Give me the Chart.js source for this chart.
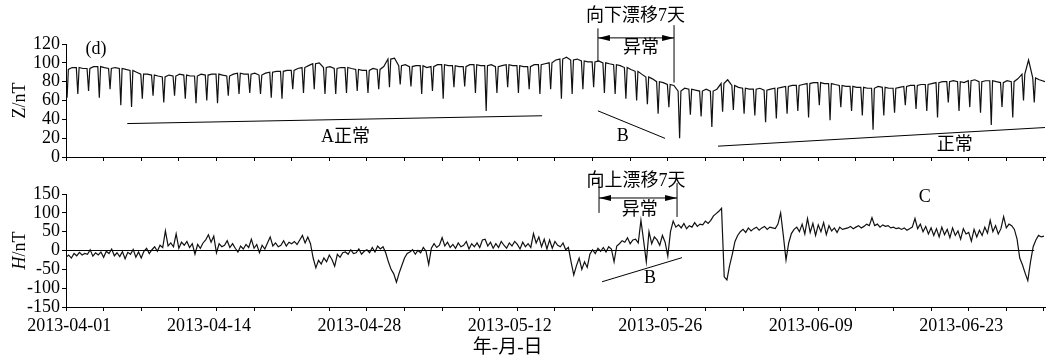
<!DOCTYPE html>
<html>
<head>
<meta charset="utf-8">
<script src="https://cdn.jsdelivr.net/npm/chart.js@4.4.0/dist/chart.umd.min.js"></script>
<style>
  html, body { margin: 0; padding: 0; background: #fff; }
  #wrap { position: relative; width: 1056px; height: 360px; }
  canvas { position: absolute; left: 0; }
  #zChart { top: 0; }
  #hChart { top: 168px; }
</style>
</head>
<body>
<div id="wrap">
  <canvas id="zChart" width="1056" height="168"></canvas>
  <canvas id="hChart" width="1056" height="192"></canvas>
</div>
<script>
const FONT = `"Liberation Serif", "Noto Sans CJK SC", serif`;

// x axis: days since 2013-04-01 00:00
const X_MIN = -0.3;
const X_MAX = 90.8;
const MARK_STEP = 3.5;
const labelDays = [0, 13, 27, 41, 55, 69, 83];
const dateLabels = [`2013-04-01`, `2013-04-14`, `2013-04-28`, `2013-05-12`, `2013-05-26`, `2013-06-09`, `2013-06-23`];

// Z: one value per day for the level around the dip, the dip itself and the midday level
const zLevel = [
  93, 95, 94, 96, 94, 94, 92, 88, 87, 85,
  86, 87, 86, 87, 88, 86, 89, 88, 87, 90,
  91, 92, 95, 99, 95, 94, 95, 93, 92, 93,
  104, 97, 96, 97, 96, 98, 97, 96, 98, 97,
  96, 98, 97, 96, 98, 100, 104, 103, 102, 101,
  100, 98, 95, 91, 85, 80, 77, 70, 72, 70,
  70, 78, 76, 73, 72, 71, 73, 75, 76, 78,
  79, 78, 76, 75, 74, 73, 74, 73, 75, 76,
  77, 79, 80, 80, 81, 80, 81, 79, 80, 88, 84
];
const zMid = [
  95, 94, 96, 95, 95, 93, 90, 88, 86, 87,
  88, 86, 88, 88, 87, 88, 88, 89, 89, 91,
  92, 94, 97, 100, 96, 95, 94, 92, 94, 96,
  105, 98, 97, 95, 98, 97, 96, 98, 97, 98,
  97, 97, 96, 98, 99, 103, 106, 104, 101, 102,
  99, 97, 93, 88, 83, 79, 76, 73, 71, 72,
  72, 82, 74, 72, 73, 72, 74, 76, 77, 79,
  78, 77, 75, 74, 73, 75, 73, 74, 76, 77,
  78, 80, 81, 79, 82, 81, 80, 81, 83, 103, 82
];
const zDip = [
  63, 67, 70, 63, 72, 55, 53, 62, 65, 58,
  65, 62, 57, 60, 57, 65, 67, 68, 67, 63,
  62, 72, 68, 72, 67, 67, 68, 70, 68, 72,
  74, 77, 75, 67, 70, 62, 74, 75, 68, 49,
  68, 74, 68, 72, 67, 72, 62, 67, 72, 74,
  68, 67, 62, 60, 56, 46, 53, 20, 45, 43,
  32, 48, 50, 46, 44, 37, 41, 46, 49, 42,
  55, 39, 53, 49, 44, 29, 44, 47, 55, 51,
  49, 42, 58, 49, 53, 47, 34, 53, 42, 60, 58
];
const zEnd = 80;

// H: four readings a day (6 h apart)
const H_START = -0.3;
const H_STEP = 0.25;
const hValues = [
  -18, -12, -20, -8, -14, -5, -12, -8,
  -10, 2, -15, -6, -12, -4, -18, -2,
  -8, 4, -14, -6, -16, -3, -22, -5,
  -10, 3, -18, -4, -20, -2, 6, -8,
  2, 10, -2, 14, 8, 52, 12, 20,
  10, 44, 6, 22, 14, 24, 8, 18,
  -10, 16, 6, 20, 28, 42, 22, 38,
  -6, 18, 10, 14, 26, 8, 18, 6,
  -4, 12, 4, 16, 8, 30, 6, 16,
  -6, 14, 4, 20, 36, 12, 20, 10,
  14, 26, 12, 22, 18, 24, 16, 28,
  40, 20, 36, 18, -20, -46, -26, -36,
  -20, -30, -12, -24, -42, -10, -18, -6,
  -4, -10, 2, -8, -6, 4, -10, -2,
  2, -6, 8, -4, 12, 4, 10, -6,
  -30, -50, -62, -84, -60, -40, -20, -8,
  -4, 2, -10, 0, -6, 8, -2, -37,
  6, 18, 8, 14, 34, 12, 22, 8,
  16, 6, 20, 10, 14, 24, 4, 18,
  10, 20, 8, 28, 30, 12, 22, 6,
  18, 8, 24, 14, 6, 20, 12, 24,
  16, 4, 22, 10, 18, 8, 45, 20,
  36, 10, 30, 4, 28, 6, 24, 14,
  10, 20, 2, 8, -30, -65, -40, -20,
  -50, -30, -45, -10, 2, -8, 6, -2,
  8, -4, 10, 4, -30, 12, 18, 26,
  22, 34, 18, 28, 30, 20, 80, 26,
  -30, 50, 18, 36, 28, 14, 40, 22,
  -15, 50, 78, 62, 68, 60, 72, 58,
  66, 62, 74, 64, 70, 68, 78, 72,
  80, 92, 98, 104, 112, -70, -78, -40,
  -10, 24, 40, 50, 56, 48, 60, 52,
  58, 62, 54, 60, 64, 56, 62, 60,
  58, 70, 100, 40, -25, 20, 45, 56,
  62, 50, 70, 44, 85, 48, 72, 40,
  68, 50, 74, 42, 66, 52, 60, 48,
  62, 56, 58, 60, 64, 58, 62, 66,
  60, 64, 70, 66, 87, 66, 70, 62,
  68, 64, 66, 60, 62, 58, 60, 56,
  60, 54, 58, 62, 85, 58, 70, 50,
  64, 44, 60, 40, 58, 36, 62, 42,
  56, 34, 60, 40, 52, 30, 58, 44,
  48, 25, 56, 36, 54, 40, 62, 46,
  80, 50, 66, 44, 58, 90, 60, 70,
  66, 56, 30, -20, -38, -60, -80, -30,
  10, 28, 40, 36, 38
];

// annotations, in data units
const zNotes = [
  {text: `(d)`, x: 2.5, y: 114.7},
  {text: `A正常`, x: 25.7, y: 20.9},
  {text: `B`, x: 51.5, y: 21.9},
  {text: `正常`, x: 82.4, y: 12.5},
  {text: `向下漂移7天`, x: 52.7, y: 149},
  {text: `异常`, x: 53.2, y: 115.8}
];
const zLines = [
  [[5.4, 35.5], [44.0, 43.8]],
  [[49.2, 49], [55.44, 19.8]],
  [[60.37, 11.5], [90.8, 31.3]],
  [[49.2, 136.6], [49.2, 101]],
  [[56.28, 140], [56.28, 79]]
];
const zArrow = {from: 49.2, to: 56.28, y: 126.5};

const hNotes = [
  {text: `向上漂移7天`, x: 52.74, y: 184},
  {text: `异常`, x: 53.1, y: 107.7},
  {text: `B`, x: 54.05, y: -74.9},
  {text: `C`, x: 79.6, y: 142}
];
const hLines = [
  [[-0.3, 0], [89.8, 0]],
  [[49.58, -83], [57.02, -19]],
  [[49.3, 195], [49.3, 99.8]],
  [[56.56, 179], [56.56, 89]]
];
const hArrow = {from: 49.3, to: 56.56, y: 139.4};

const buildZPoints = () => {
  const points = [];
  zLevel.forEach((level, day) => {
    points.push({x: day - 0.34, y: level});
    points.push({x: day - 0.2, y: zDip[day]});
    points.push({x: day - 0.08, y: level});
    points.push({x: day + 0.27, y: zMid[day]});
  });
  points.push({x: X_MAX, y: zEnd});
  return points.filter((p) => p.x >= X_MIN);
};

const buildHPoints = () => hValues.map((value, i) => ({x: H_START + i * H_STEP, y: value}));

const buildTicks = () => {
  const ticks = [];
  for (let v = X_MIN; v <= X_MAX + 0.01; v += MARK_STEP) {
    ticks.push(Math.round(v * 100) / 100);
  }
  return ticks.concat(labelDays).sort((a, b) => a - b).map((value) => ({value}));
};

const drawRotated = (ctx, parts, cx, cy) => {
  ctx.save();
  ctx.translate(cx, cy);
  ctx.rotate(-Math.PI / 2);
  ctx.textBaseline = `middle`;
  ctx.textAlign = `left`;
  const fonts = parts.map((p) => `${p.italic ? `italic ` : ``}18px ${FONT}`);
  const widths = parts.map((p, i) => {
    ctx.font = fonts[i];
    return ctx.measureText(p.text).width;
  });
  let pos = -widths.reduce((a, b) => a + b, 0) / 2;
  parts.forEach((p, i) => {
    ctx.font = fonts[i];
    ctx.fillText(p.text, pos, 0);
    pos += widths[i];
  });
  ctx.restore();
};

const makeNotes = ({notes, lines, arrow, yTitle, xTitle}) => ({
  id: `notes`,
  afterDraw(chart) {
    const {ctx, chartArea} = chart;
    const x = chart.scales.x;
    const y = chart.scales.y;
    ctx.save();
    ctx.strokeStyle = `#000`;
    ctx.fillStyle = `#000`;
    ctx.lineWidth = 1;

    lines.forEach(([a, b]) => {
      ctx.beginPath();
      ctx.moveTo(x.getPixelForValue(a[0]), y.getPixelForValue(a[1]));
      ctx.lineTo(x.getPixelForValue(b[0]), y.getPixelForValue(b[1]));
      ctx.stroke();
    });

    const ax1 = x.getPixelForValue(arrow.from);
    const ax2 = x.getPixelForValue(arrow.to);
    const ay = y.getPixelForValue(arrow.y);
    ctx.beginPath();
    ctx.moveTo(ax1, ay);
    ctx.lineTo(ax2, ay);
    ctx.stroke();
    [[ax1, 1], [ax2, -1]].forEach(([px, dir]) => {
      ctx.beginPath();
      ctx.moveTo(px, ay);
      ctx.lineTo(px + dir * 12, ay - 3);
      ctx.lineTo(px + dir * 12, ay + 3);
      ctx.closePath();
      ctx.fill();
    });

    ctx.textAlign = `center`;
    ctx.textBaseline = `middle`;
    ctx.font = `18px ${FONT}`;
    notes.forEach((n) => {
      ctx.fillText(n.text, x.getPixelForValue(n.x), y.getPixelForValue(n.y));
    });

    drawRotated(ctx, yTitle, 20, (chartArea.top + chartArea.bottom) / 2);

    if (xTitle) {
      ctx.font = `19px ${FONT}`;
      ctx.fillText(xTitle.text, x.getPixelForValue(xTitle.x), chartArea.bottom + 41);
    }
    ctx.restore();
  }
});

const makeOptions = ({yMin, yMax, yStep, padding, xHeight, showLabels}) => ({
  responsive: false,
  animation: false,
  events: [],
  layout: {padding},
  plugins: {legend: {display: false}, tooltip: {enabled: false}},
  scales: {
    x: {
      type: `linear`,
      min: X_MIN,
      max: X_MAX,
      afterBuildTicks: (scale) => {
        scale.ticks = buildTicks();
      },
      afterFit: (scale) => {
        scale.height = xHeight;
      },
      border: {display: true, color: `#000`, width: 1},
      grid: {
        drawOnChartArea: false,
        tickLength: 4,
        tickColor: (ctx) => (ctx.tick && labelDays.includes(ctx.tick.value) ? `rgba(0,0,0,0)` : `#000`)
      },
      ticks: {
        autoSkip: false,
        maxRotation: 0,
        padding: 4,
        color: `#000`,
        font: {family: FONT, size: 18},
        callback: (value) => {
          const idx = labelDays.indexOf(value);
          return showLabels && idx >= 0 ? dateLabels[idx] : ``;
        }
      }
    },
    y: {
      min: yMin,
      max: yMax,
      afterFit: (scale) => {
        scale.width = 66;
      },
      border: {display: true, color: `#000`, width: 1},
      grid: {drawOnChartArea: false, tickLength: 4, tickColor: `#000`},
      ticks: {
        stepSize: yStep,
        autoSkip: false,
        padding: 2,
        color: `#000`,
        font: {family: FONT, size: 18, lineHeight: 1}
      }
    }
  }
});

new Chart(document.getElementById(`zChart`), {
  type: `line`,
  data: {
    datasets: [{
      data: buildZPoints(),
      borderColor: `#111`,
      borderWidth: 1.2,
      pointRadius: 0,
      tension: 0
    }]
  },
  options: makeOptions({yMin: 0, yMax: 120, yStep: 20, padding: {top: 44, right: 11, left: 0, bottom: 0}, xHeight: 9, showLabels: false}),
  plugins: [makeNotes({notes: zNotes, lines: zLines, arrow: zArrow, yTitle: [{text: `Z/nT`}]})]
});

new Chart(document.getElementById(`hChart`), {
  type: `line`,
  data: {
    datasets: [{
      data: buildHPoints(),
      borderColor: `#111`,
      borderWidth: 1.2,
      pointRadius: 0,
      tension: 0
    }]
  },
  options: makeOptions({yMin: -150, yMax: 150, yStep: 50, padding: {top: 26, right: 11, left: 0, bottom: 0}, xHeight: 53, showLabels: true}),
  plugins: [makeNotes({
    notes: hNotes,
    lines: hLines,
    arrow: hArrow,
    yTitle: [{text: `H`, italic: true}, {text: `/nT`}],
    xTitle: {text: `年-月-日`, x: 40.8}
  })]
});
</script>
</body>
</html>
